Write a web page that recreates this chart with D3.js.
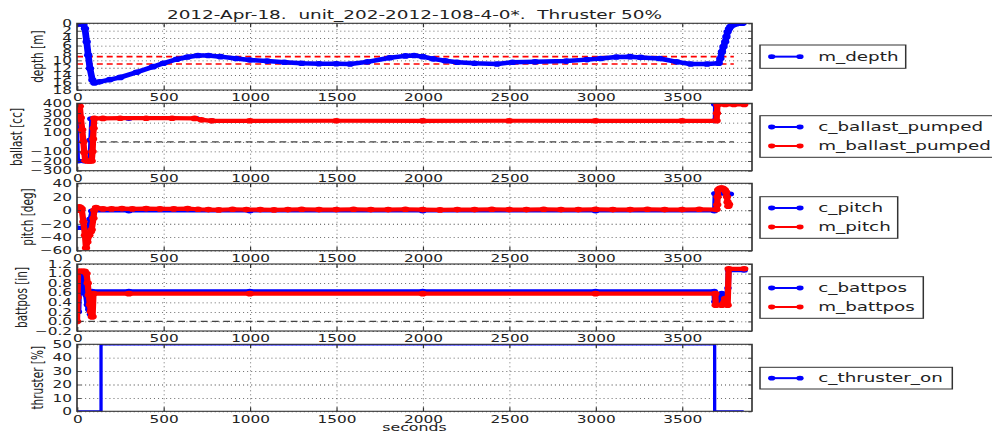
<!DOCTYPE html>
<html><head><meta charset="utf-8">
<script src="https://cdn.jsdelivr.net/npm/d3@7"></script>
<style>
body{margin:0;background:#fff}
svg{display:block}
text{font-family:"DejaVu Sans",sans-serif;fill:#222}
</style>
</head><body>
<svg id="c"></svg>
<script>
// ---------------- DATA ----------------
const titleText = "2012-Apr-18.  unit_202-2012-108-4-0*.  Thruster 50%";
const xLabel = "seconds";
const xDomain = [0, 3905];
const xTicks = [0, 500, 1000, 1500, 2000, 2500, 3000, 3500];

const depthTicks = [0, 2, 4, 6, 8, 10, 12, 14, 16, 18];
const ballastTicks = [-300, -200, -100, 0, 100, 200, 300, 400];
const pitchTicks = [-60, -40, -20, 0, 20, 40];
const battposTicks = [-0.2, 0, 0.2, 0.4, 0.6, 0.8, 1.0, 1.2];
const thrusterTicks = [0, 10, 20, 30, 40, 50];

const depthLimits = [9, 11];          // red dashed target band
const limitSpan = [0, 3800];          // extent of dashed reference lines
const zeroLine = [0];                 // black dashed zero line

const m_depth = [[0,0.2],[20,0.2],[37,0.3],[46,1.4],[56,5],[65,8.6],[75,12.2],[89,15.3],[100,16.1],
 [130,15.8],[190,15.2],[250,14.6],[345,13.2],[440,11.7],[500,10.8],[577,9.7],[640,9.1],[700,8.7],
 [760,8.7],[830,9.0],[920,9.5],[1000,9.9],[1100,10.2],[1200,10.5],[1300,10.8],[1400,10.9],[1500,10.9],
 [1580,11.0],[1680,10.4],[1810,9.3],[1900,8.8],[1950,8.7],[2000,9.0],[2060,9.6],[2130,10.1],[2200,10.5],
 [2300,10.8],[2430,11.0],[2520,10.5],[2650,10.4],[2830,10.2],[2950,9.8],[3030,9.5],[3120,9.1],[3200,9.0],
 [3260,9.2],[3370,9.5],[3470,10.4],[3550,11.0],[3645,11.0],[3712,10.8],[3722,9.5],[3731,7.7],[3740,6.3],
 [3750,5.0],[3757,3.6],[3764,2.3],[3772,1.5],[3780,0.9],[3790,0.5],[3800,0.3],[3815,0.1],[3830,0],[3850,0]];

const c_ballast = [[0,400],[3,150],[8,-200],[40,-200],[70,-200],[75,20],[80,240],[300,243],[690,243],[780,218],
 [2000,218],[3687,218],[3689,390],[3860,390]];
const m_ballast = [[0,395],[8,385],[16,370],[22,250],[30,125],[37,0],[42,-110],[48,-195],[60,-200],[72,-200],
 [85,-200],[90,-100],[93,30],[96,140],[100,243],[150,243],[250,245],[400,245],[550,245],[680,243],[720,228],
 [780,218],[1000,218],[1500,219],[2000,218],[2500,219],[3000,218],[3500,218],[3700,218],[3702,296],
 [3705,385],[3750,388],[3800,388],[3860,388]];

const c_pitch = [[0,-26],[30,-26],[66,-26],[75,-13],[85,-1],[300,-1],[1000,-1],[2000,-1],[3000,-1],[3687,-1],
 [3690,25],[3720,25],[3750,25],[3780,24]];
const m_pitch = [[0,0],[6,3],[13,5],[20,4],[27,2],[37,-17],[46,-37],[52,-56],[60,-47],[71,-37],[80,-32],
 [85,-29],[95,-12],[100,0],[110,4],[150,2],[200,2],[260,2.5],[320,2],[400,2.5],[480,2],[560,2],[640,2.5],
 [700,1.5],[760,1],[820,0.5],[900,1.5],[980,1],[1060,1],[1140,0.5],[1220,1],[1300,1.5],[1400,1],[1500,1],
 [1600,1.5],[1700,1],[1800,1],[1900,1.5],[2000,1],[2100,0.5],[2200,1],[2300,1],[2400,1.5],[2500,1],
 [2600,1],[2700,1.5],[2800,1],[2900,1],[3000,1.5],[3100,1],[3200,1],[3300,1.5],[3400,1],[3500,1],
 [3600,1.5],[3700,1],[3704,8],[3706,20],[3709,30],[3716,32],[3724,33],[3732,33],[3740,32],[3748,30],
 [3755,27],[3760,20],[3764,12],[3768,6],[3772,9]];

const c_battpos = [[0,1.0],[8,0.2],[14,1.0],[21,0.95],[28,0.6],[37,1.0],[45,0.8],[52,0.55],[60,0.35],
 [68,0.25],[78,0.15],[85,0.12],[87,0.63],[300,0.63],[1000,0.63],[2000,0.63],[3000,0.63],[3687,0.63],
 [3690,0.41],[3706,0.41],[3730,0.59],[3745,0.45],[3760,0.5],[3766,0.7],[3770,1.07],[3860,1.07]];
const m_battpos = [[0,0.0],[3,0.5],[6,1.05],[15,1.05],[25,1.05],[35,1.05],[45,1.05],[55,1.0],[62,0.8],
 [68,0.55],[75,0.35],[80,0.2],[86,0.1],[90,0.1],[95,0.58],[300,0.58],[1000,0.58],[2000,0.58],[3000,0.58],
 [3693,0.58],[3695,0.34],[3730,0.34],[3750,0.48],[3764,0.34],[3770,1.1],[3860,1.1]];

const c_thruster_on = [[0,0],[139,0],[139,50],[3689,50],[3689,0],[3857,0]];

// ---------------- LAYOUT ----------------
const S = 1.5;               // horizontal stretch of the original image
const W = 992, H = 435;
const X0 = 77 / S, X1 = 752 / S;
const BLUE = "#0000ff", RED = "#ff0000";
const minus = v => String(v).replace("-", "\u2212");

const panels = [
  {key:"depth", top:23.3, bottom:90, domain:[0,18], inverted:true, ticks:depthTicks, fmt:d=>String(d),
   label:"depth [m]", labelX:37.5,
   series:[{name:"m_depth", data:m_depth, color:BLUE, w:4.5, r:2.8}],
   legend:{x0:760, x1:905.7, y0:45, y1:68.3}},
  {key:"ballast", top:103.3, bottom:170.7, domain:[-300,400], ticks:ballastTicks, fmt:d=>minus(d),
   label:"ballast [cc]", labelX:16.7,
   series:[{name:"c_ballast_pumped", data:c_ballast, color:BLUE, w:2.2, r:2.5},
           {name:"m_ballast_pumped", data:m_ballast, color:RED, w:4.2, r:2.8}],
   legend:{x0:760, x1:1010, y0:115.7, y1:157.3}},
  {key:"pitch", top:183.3, bottom:250.7, domain:[-60,40], ticks:pitchTicks, fmt:d=>minus(d),
   label:"pitch [deg]", labelX:27.5,
   series:[{name:"c_pitch", data:c_pitch, color:BLUE, w:3, r:2.5},
           {name:"m_pitch", data:m_pitch, color:RED, w:4.2, r:2.8}],
   legend:{x0:760, x1:897.7, y0:196.7, y1:238.3}},
  {key:"battpos", top:264, bottom:331, domain:[-0.2,1.2], ticks:battposTicks, fmt:d=>minus(d.toFixed(1)),
   label:"battpos [in]", labelX:21.3,
   series:[{name:"c_battpos", data:c_battpos, color:BLUE, w:4, r:2.5},
           {name:"m_battpos", data:m_battpos, color:RED, w:4.2, r:2.8}],
   legend:{x0:760, x1:923.3, y0:276.7, y1:318.3}},
  {key:"thruster", top:344.3, bottom:411.3, domain:[0,50], ticks:thrusterTicks, fmt:d=>String(d),
   label:"thruster [%]", labelX:37.5,
   series:[{name:"c_thruster_on", data:c_thruster_on, color:BLUE, w:2.2, r:0}],
   legend:{x0:760, x1:952.3, y0:367.3, y1:389}}
];

// ---------------- DRAW ----------------
const svg = d3.select("#c").attr("width", W).attr("height", H)
  .attr("viewBox", `0 0 ${W / S} ${H}`).attr("preserveAspectRatio", "none");
svg.append("rect").attr("width", W / S).attr("height", H).attr("fill", "#fff");

const x = d3.scaleLinear().domain(xDomain).range([X0, X1]);
const xFmt = d3.format("d");

svg.append("text").attr("x", (X0 + X1) / 2).attr("y", 19).attr("text-anchor", "middle")
  .style("font-size", "12.3px").style("white-space", "pre").text(titleText);

panels.forEach(p => {
  const y = d3.scaleLinear().domain(p.domain)
    .range(p.inverted ? [p.top, p.bottom] : [p.bottom, p.top]);
  const h = p.bottom - p.top;
  const g = svg.append("g");
  const clipId = "clip-" + p.key;
  svg.append("clipPath").attr("id", clipId).append("rect")
    .attr("x", X0).attr("y", p.top).attr("width", X1 - X0).attr("height", h);

  // grid
  const gx = g.append("g").attr("transform", `translate(0,${p.bottom})`)
    .call(d3.axisBottom(x).tickValues(xTicks.filter(t => t > xDomain[0])).tickSize(-h).tickFormat(""));
  gx.select(".domain").remove();
  gx.selectAll("line").attr("stroke", "#444").attr("stroke-width", 0.6).attr("stroke-dasharray", "1,3");
  const gy = g.append("g").attr("transform", `translate(${X0},0)`)
    .call(d3.axisLeft(y).tickValues(p.ticks).tickSize(-(X1 - X0)).tickFormat(""));
  gy.select(".domain").remove();
  gy.selectAll("line").attr("stroke", "#444").attr("stroke-width", 0.8).attr("stroke-dasharray", "0.7,2");

  // reference lines
  const ref = g.append("g").attr("clip-path", `url(#${clipId})`);
  if (p.key === "depth") {
    depthLimits.forEach(v => ref.append("line")
      .attr("x1", x(limitSpan[0])).attr("x2", x(limitSpan[1])).attr("y1", y(v)).attr("y2", y(v))
      .attr("stroke", RED).attr("stroke-width", 1.6).attr("stroke-dasharray", "4,2.6"));
  }
  if (p.key === "ballast" || p.key === "battpos") {
    zeroLine.forEach(v => ref.append("line")
      .attr("x1", x(limitSpan[0])).attr("x2", x(limitSpan[1])).attr("y1", y(v)).attr("y2", y(v))
      .attr("stroke", "#444").attr("stroke-width", 1.2).attr("stroke-dasharray", "4.5,3"));
  }

  // series
  const line = d3.line().x(d => x(d[0])).y(d => y(d[1]));
  const sg = g.append("g").attr("clip-path", `url(#${clipId})`);
  p.series.forEach(s => {
    sg.append("path").datum(s.data).attr("d", line).attr("fill", "none")
      .attr("stroke", s.color).attr("stroke-width", s.w).attr("stroke-linejoin", "round");
    if (s.r > 0) {
      sg.selectAll(null).data(s.data).join("circle")
        .attr("cx", d => x(d[0])).attr("cy", d => y(d[1])).attr("r", s.r).attr("fill", s.color);
    }
  });

  // frame
  g.append("rect").attr("x", X0).attr("y", p.top).attr("width", X1 - X0).attr("height", h)
    .attr("fill", "none").attr("stroke", "#333").attr("stroke-width", 1.1);

  // axes with inward ticks
  const tl = 4;
  const ab = g.append("g").attr("transform", `translate(0,${p.bottom})`)
    .call(d3.axisBottom(x).tickValues(xTicks).tickSizeInner(-tl).tickSizeOuter(0).tickPadding(4)
      .tickFormat(xFmt));
  const at = g.append("g").attr("transform", `translate(0,${p.top})`)
    .call(d3.axisTop(x).tickValues(xTicks).tickSizeInner(-tl).tickSizeOuter(0).tickFormat(""));
  const al = g.append("g").attr("transform", `translate(${X0},0)`)
    .call(d3.axisLeft(y).tickValues(p.ticks).tickSizeInner(-tl / S).tickSizeOuter(0)
      .tickPadding(5 / S).tickFormat(p.fmt));
  const ar = g.append("g").attr("transform", `translate(${X1},0)`)
    .call(d3.axisRight(y).tickValues(p.ticks).tickSizeInner(-tl / S).tickSizeOuter(0).tickFormat(""));
  [ab, at, al, ar].forEach(a => {
    a.select(".domain").remove();
    a.selectAll("line").attr("stroke", "#333").attr("stroke-width", 0.8);
    a.selectAll("text").style("font-size", "10.2px").style("font-family", '"DejaVu Sans",sans-serif')
      .attr("fill", "#222");
  });

  // y label
  svg.append("text")
    .attr("transform", `translate(${p.labelX / S},${(p.top + p.bottom) / 2}) rotate(-90)`)
    .attr("text-anchor", "middle").attr("dominant-baseline", "central")
    .style("font-size", "10.5px").text(p.label);

  // legend
  const L = p.legend;
  const lg = svg.append("g");
  lg.append("rect").attr("x", L.x0 / S).attr("y", L.y0).attr("width", (L.x1 - L.x0) / S)
    .attr("height", L.y1 - L.y0).attr("fill", "#fff").attr("stroke", "#333").attr("stroke-width", 1);
  const n = p.series.length;
  const rowH = 19;
  const startY = (L.y0 + L.y1) / 2 - (n - 1) * rowH / 2;
  p.series.forEach((s, i) => {
    const cy = startY + i * rowH;
    lg.append("line").attr("x1", 771.7 / S).attr("x2", 800 / S).attr("y1", cy).attr("y2", cy)
      .attr("stroke", s.color).attr("stroke-width", 2);
    [771.7, 800].forEach(mx => lg.append("circle").attr("cx", mx / S).attr("cy", cy).attr("r", 2.4)
      .attr("fill", s.color));
    lg.append("text").attr("x", 818.3 / S).attr("y", cy).attr("dominant-baseline", "central")
      .style("font-size", "12.2px").text(s.name);
  });
});

svg.append("text").attr("x", (X0 + X1) / 2).attr("y", 431.5).attr("text-anchor", "middle")
  .style("font-size", "10.5px").text(xLabel);
</script>
</body></html>
